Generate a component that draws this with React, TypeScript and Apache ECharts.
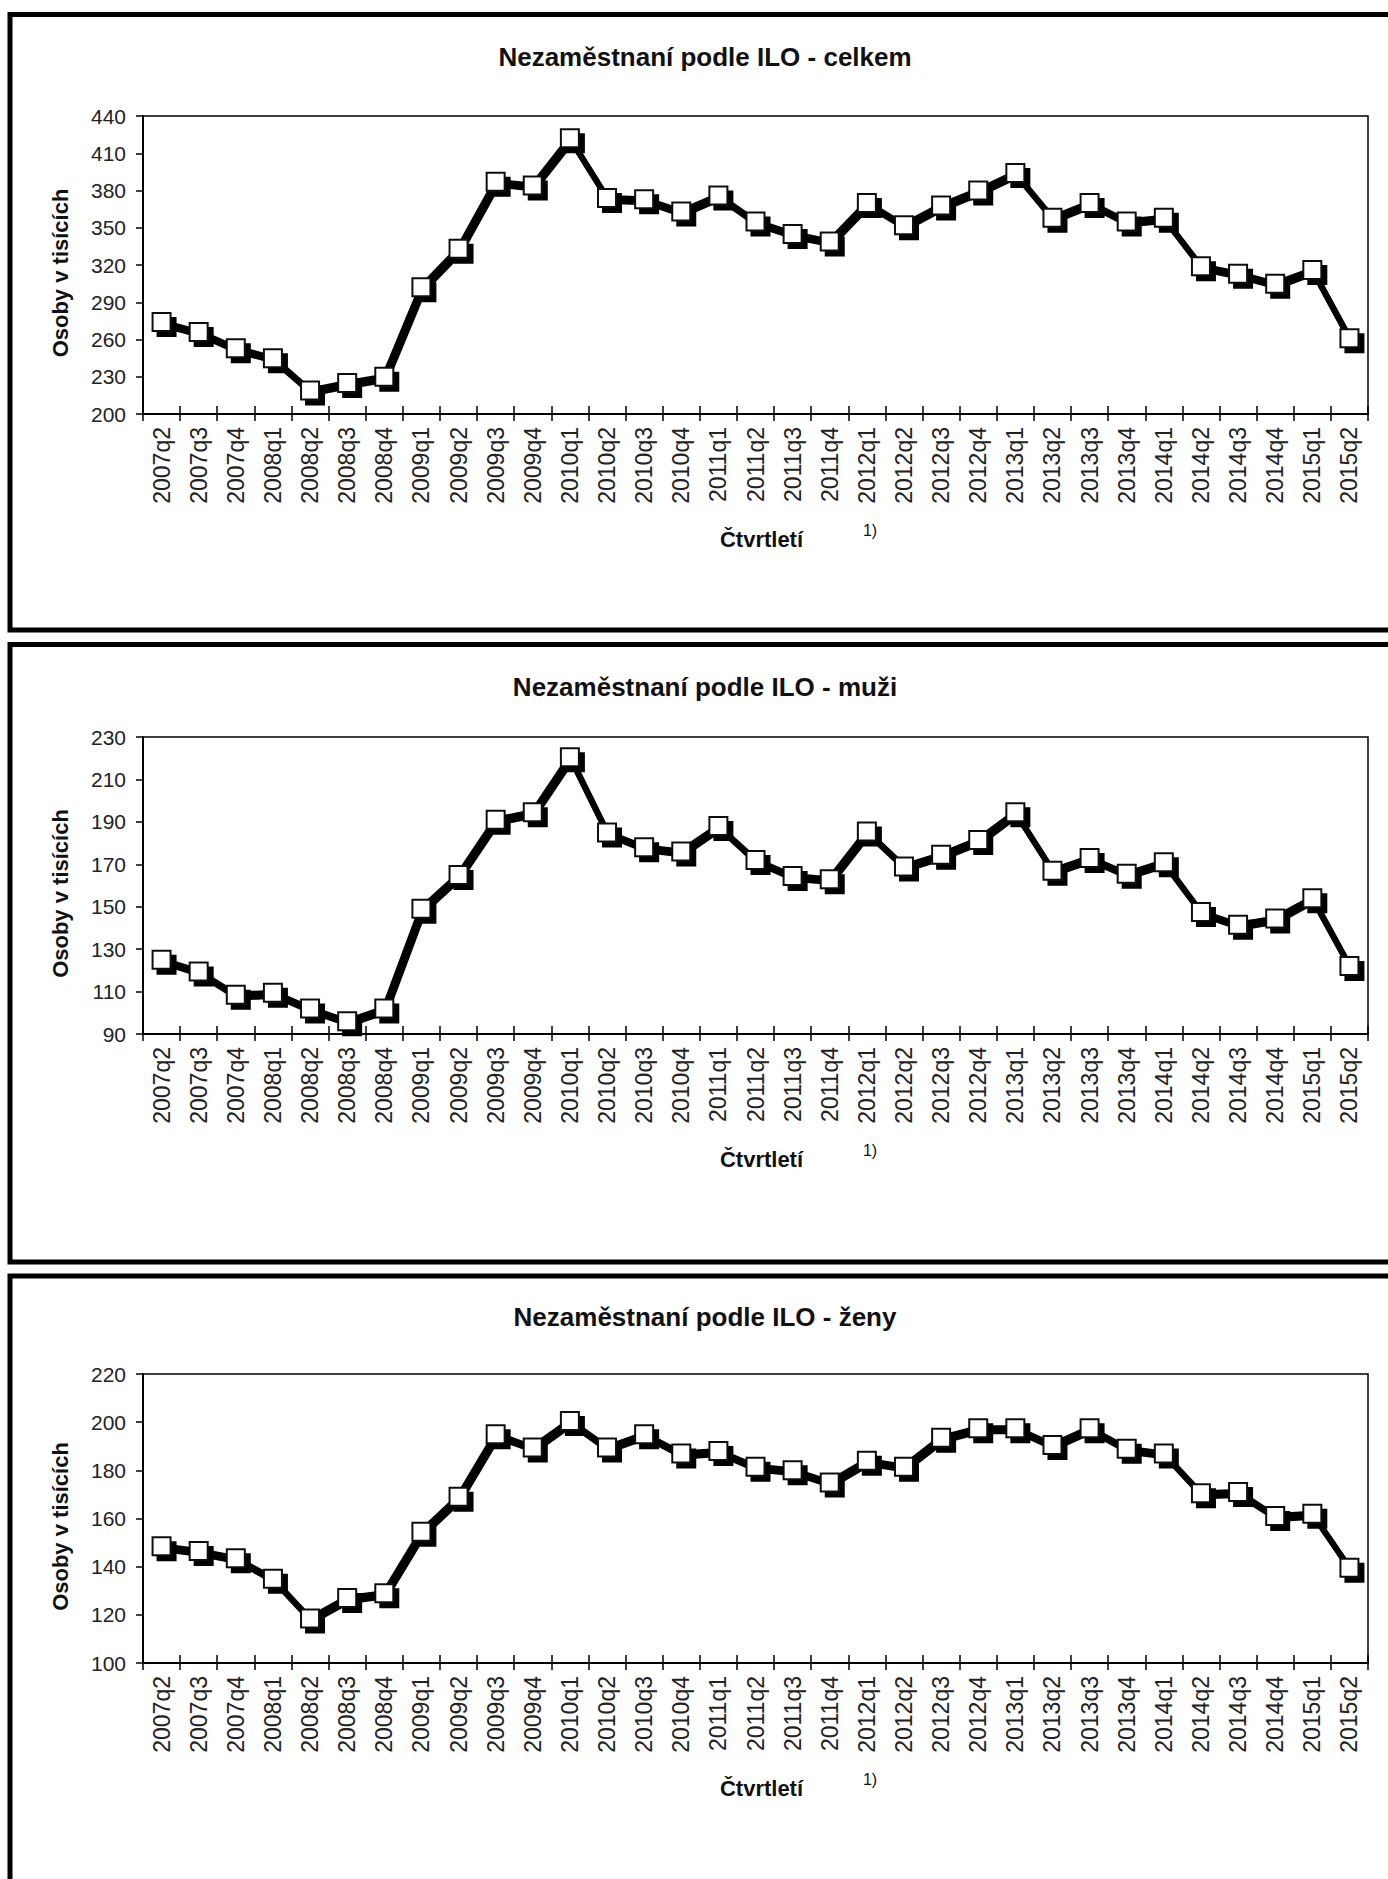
import React, { useEffect, useRef } from "react";
import * as echarts from "echarts";

const categories = [
  "2007q2", "2007q3", "2007q4",
  "2008q1", "2008q2", "2008q3", "2008q4",
  "2009q1", "2009q2", "2009q3", "2009q4",
  "2010q1", "2010q2", "2010q3", "2010q4",
  "2011q1", "2011q2", "2011q3", "2011q4",
  "2012q1", "2012q2", "2012q3", "2012q4",
  "2013q1", "2013q2", "2013q3", "2013q4",
  "2014q1", "2014q2", "2014q3", "2014q4",
  "2015q1", "2015q2",
];

const totalValues = [
  274, 266, 253, 245, 219, 225, 230, 302, 333, 387, 384, 422, 374, 373, 363,
  376, 355, 345, 339, 370, 352, 368, 380, 394, 358, 370, 355, 358, 319, 313,
  305, 316, 261,
];

const menValues = [
  125, 119.5, 108.5, 109.5, 102, 96, 102, 149, 165, 191, 194.5, 220.5, 185, 178,
  176, 188, 172, 164.5, 163, 185.5, 169, 174.5, 181.5, 194.5, 167, 173, 165.5,
  171, 147.5, 141.5, 144.5, 154, 122,
];

const womenValues = [
  148.5, 146.5, 143.5, 135, 118.5, 127, 129, 154.5, 169, 195, 189.5, 200.5,
  189.5, 195, 187, 188, 181.5, 180, 175, 184, 181.5, 193.5, 197.5, 197.5, 190.5,
  197.5, 189, 187, 170.5, 171, 161, 162, 139.5,
];

const chartTitles = [
  "Nezaměstnaní podle ILO - celkem",
  "Nezaměstnaní podle ILO - muži",
  "Nezaměstnaní podle ILO - ženy",
];
const yMins = [200, 90, 100];
const yMaxs = [440, 230, 220];
const yIntervals = [30, 20, 20];
const yAxisName = "Osoby v tisících";
const xAxisName = "Čtvrtletí";
const footnoteMark = "1)";

const seriesList = [totalValues, menValues, womenValues];

const W = 1388;
const H = 1879;
const FONT = "'Liberation Sans', Arial, sans-serif";

const gridBoxes = [
  { top: 116, height: 298 },
  { top: 737, height: 297 },
  { top: 1374, height: 289 },
];
const titleCenters = [57, 687, 1317];
const panelBoxes = [
  { y: 14.5, h: 615.5 },
  { y: 644.5, h: 617.5 },
  { y: 1276, h: 700 },
];

function buildOption() {
  const grid: any[] = [];
  const xAxis: any[] = [];
  const yAxis: any[] = [];
  const series: any[] = [];
  const title: any[] = [];
  const graphic: any[] = [];

  for (let i = 0; i < 3; i++) {
    const gb = gridBoxes[i];
    grid.push({
      left: 143,
      top: gb.top,
      width: 1225,
      height: gb.height,
      show: true,
      borderColor: "#000",
      borderWidth: 1.5,
      backgroundColor: "#fff",
    });

    xAxis.push({
      type: "category",
      gridIndex: i,
      data: categories,
      position: "bottom",
      boundaryGap: true,
      axisLine: { show: true, onZero: false, lineStyle: { color: "#000", width: 2 } },
      axisTick: { show: true, inside: false, length: 7, interval: 0, lineStyle: { color: "#000", width: 1.5 } },
      axisLabel: {
        show: true,
        interval: 0,
        rotate: 90,
        margin: 13,
        fontSize: 23,
        fontFamily: FONT,
        color: "#222",
      },
      splitLine: { show: false },
      name: xAxisName,
      nameLocation: "middle",
      nameGap: 114,
      nameTextStyle: { fontSize: 22, fontWeight: "bold", fontFamily: FONT, color: "#111", padding: [0, 0, 0, 12] },
    });
    xAxis.push({
      type: "category",
      gridIndex: i,
      data: categories,
      position: "bottom",
      boundaryGap: true,
      axisLine: { show: false, onZero: false },
      axisTick: { show: true, inside: true, length: 8, interval: 0, lineStyle: { color: "#000", width: 1.5 } },
      axisLabel: { show: false },
      splitLine: { show: false },
    });

    yAxis.push({
      type: "value",
      gridIndex: i,
      min: yMins[i],
      max: yMaxs[i],
      interval: yIntervals[i],
      axisLine: { show: true, lineStyle: { color: "#000", width: 2 } },
      axisTick: { show: true, inside: false, length: 7, lineStyle: { color: "#000", width: 1.5 } },
      axisLabel: { margin: 17, fontSize: 21, fontFamily: FONT, color: "#222" },
      splitLine: { show: false },
      name: yAxisName,
      nameLocation: "middle",
      nameGap: 72,
      nameRotate: 90,
      nameTextStyle: { fontSize: 22, fontWeight: "bold", fontFamily: FONT, color: "#111", padding: [0, 16, 0, 0] },
    });

    series.push({
      type: "line",
      name: chartTitles[i],
      xAxisIndex: i * 2,
      yAxisIndex: i,
      data: seriesList[i],
      symbol: "rect",
      symbolSize: 18,
      showSymbol: true,
      silent: true,
      lineStyle: {
        color: "#000",
        width: 6,
        shadowColor: "#000",
        shadowOffsetX: 2,
        shadowOffsetY: 3,
        shadowBlur: 0,
      },
      itemStyle: {
        color: "#fff",
        borderColor: "#111",
        borderWidth: 2,
        shadowColor: "#000",
        shadowOffsetX: 5,
        shadowOffsetY: 5,
        shadowBlur: 0,
      },
      emphasis: { disabled: true },
    });

    title.push({
      text: chartTitles[i],
      left: 705,
      textAlign: "center",
      top: titleCenters[i] - 13,
      padding: 0,
      textStyle: { fontSize: 26, fontWeight: "bold", fontFamily: FONT, color: "#111" },
    });

    const pb = panelBoxes[i];
    graphic.push({
      type: "rect",
      silent: true,
      shape: { x: 10, y: pb.y, width: 1420, height: pb.h },
      style: { fill: "none", stroke: "#000", lineWidth: 5 },
      z: 100,
    });
    graphic.push({
      type: "text",
      silent: true,
      x: 870,
      y: gb.top + gb.height + 116,
      style: {
        text: footnoteMark,
        font: `16px ${FONT}`,
        fill: "#111",
        align: "center",
        verticalAlign: "middle",
      },
    });
  }

  return {
    animation: false,
    backgroundColor: "#fff",
    textStyle: { fontFamily: FONT },
    title,
    grid,
    xAxis,
    yAxis,
    series,
    graphic,
  };
}

export default function App() {
  const ref = useRef<HTMLDivElement>(null);

  useEffect(() => {
    if (!ref.current) return;
    const chart = echarts.init(ref.current, undefined, { renderer: "svg", width: W, height: H });
    chart.setOption(buildOption() as any);
    return () => {
      chart.dispose();
    };
  }, []);

  return (
    <div style={{ position: "absolute", left: 0, top: 0, width: W, height: H, background: "#fff" }}>
      <div ref={ref} style={{ width: W, height: H }} />
    </div>
  );
}
